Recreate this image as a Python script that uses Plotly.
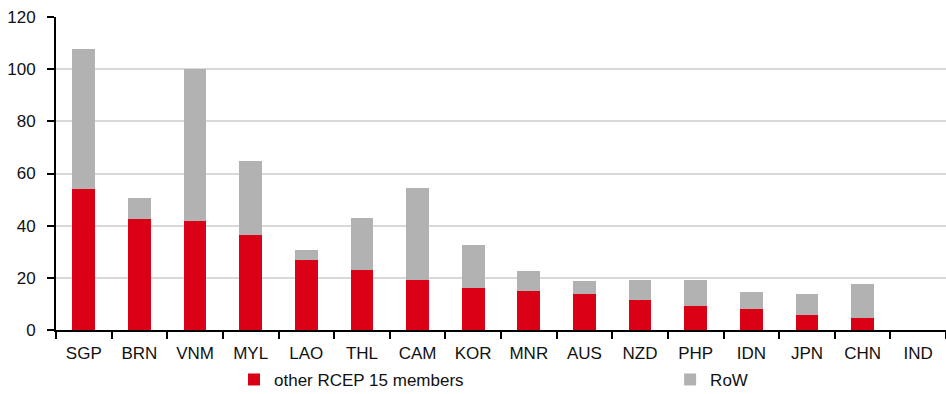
import plotly.graph_objects as go

categories = ["SGP", "BRN", "VNM", "MYL", "LAO", "THL", "CAM", "KOR",
              "MNR", "AUS", "NZD", "PHP", "IDN", "JPN", "CHN", "IND"]
rcep_share = [54.0, 42.5, 41.6, 36.4, 26.9, 23.1, 19.0, 16.0,
              14.9, 13.8, 11.5, 9.3, 8.0, 5.7, 4.5, 0.0]
total = [107.7, 50.5, 100.0, 64.7, 30.6, 42.9, 54.6, 32.4,
         22.5, 18.8, 19.1, 19.1, 14.6, 13.7, 17.5, 0.0]
row_share = [round(t - r, 1) for t, r in zip(total, rcep_share)]
y_ticks = [0, 20, 40, 60, 80, 100, 120]

FONT = "Liberation Sans, Arial, sans-serif"
FS = 17
TXT = "#111111"

fig = go.Figure()
fig.add_trace(go.Bar(x=categories, y=rcep_share, name="other RCEP 15 members",
                     marker=dict(color="#DA0016", line=dict(width=0)),
                     legend="legend", showlegend=True))
fig.add_trace(go.Bar(x=categories, y=row_share, name="RoW",
                     marker=dict(color="#B2B2B2", line=dict(width=0)),
                     legend="legend2", showlegend=True))

fig.update_layout(
    width=946, height=394,
    barmode="stack", bargap=0.59,
    margin=dict(l=56, r=0, t=17, b=64, autoexpand=False),
    paper_bgcolor="white", plot_bgcolor="white",
    font=dict(family=FONT, size=FS, color=TXT),
    showlegend=True,
    legend=dict(x=0.2, y=-0.102, xanchor="left", yanchor="top",
                orientation="h", bgcolor="rgba(0,0,0,0)", borderwidth=0,
                font=dict(family=FONT, size=FS, color=TXT)),
    legend2=dict(x=0.69, y=-0.102, xanchor="left", yanchor="top",
                 orientation="h", bgcolor="rgba(0,0,0,0)", borderwidth=0,
                 font=dict(family=FONT, size=FS, color=TXT)),
    xaxis=dict(
        type="category", showline=True, linecolor="black", linewidth=2,
        ticks="outside", ticklen=7, tickwidth=2, tickcolor="black",
        tickson="boundaries", showgrid=False, zeroline=False,
        ticklabelstandoff=7,
        tickfont=dict(family=FONT, size=FS, color=TXT),
    ),
    yaxis=dict(
        range=[0, 120], tickvals=y_ticks, showline=True, linecolor="black",
        linewidth=2, ticks="outside", ticklen=7, tickwidth=2, tickcolor="black",
        showgrid=True, gridcolor="#D9D9D9", gridwidth=2, zeroline=False,
        ticklabelstandoff=8,
        tickfont=dict(family=FONT, size=FS, color=TXT),
    ),
)

fig.write_html("out.html")
